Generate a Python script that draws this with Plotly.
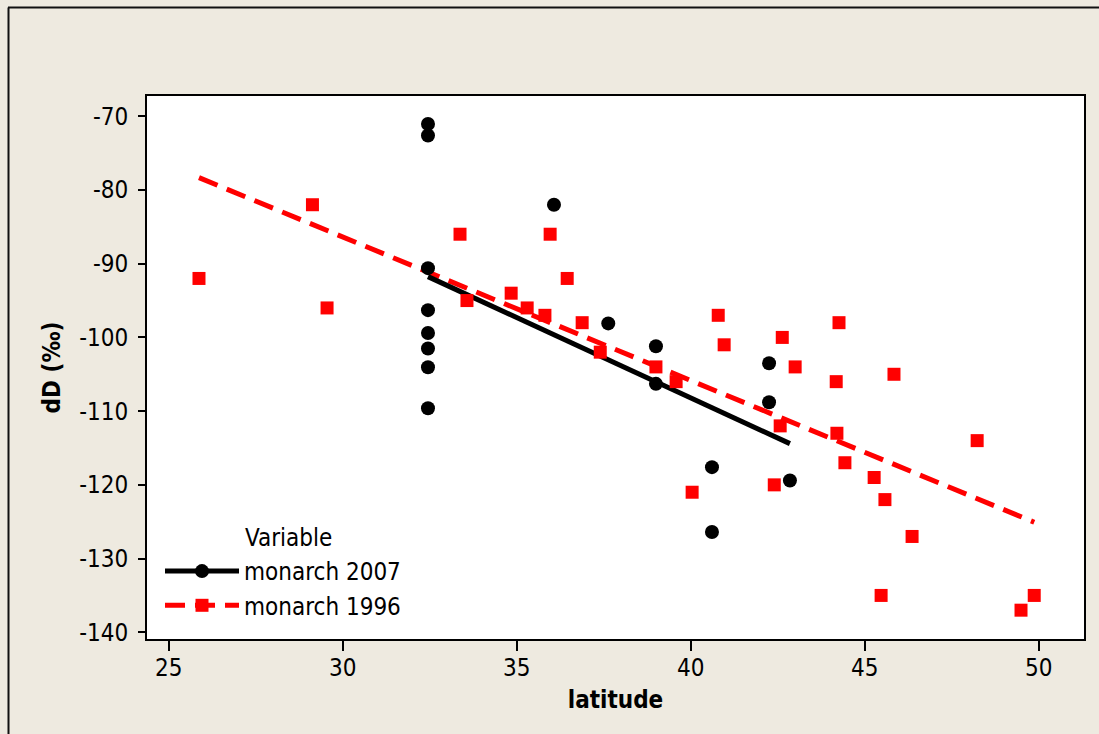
import numpy as np
import plotly.graph_objects as go

# ---- data ----
lat_2007 = [32.45, 32.45, 32.45, 32.45, 32.45, 32.45, 32.45, 32.45,
            36.07, 37.63, 39.0, 39.0, 40.61, 40.61, 42.25, 42.25, 42.85]
dD_2007 = [-71.05, -72.6, -90.6, -96.3, -99.4, -101.5, -104.05, -109.6,
           -82.0, -98.1, -101.2, -106.3, -117.6, -126.4, -103.5, -108.8, -119.4]

lat_1996 = [25.87, 29.13, 29.55, 33.37, 33.57, 34.84, 35.30, 35.81, 35.96,
            36.45, 36.88, 37.40, 39.0, 39.58, 40.04, 40.79, 40.96, 42.4,
            42.57, 42.63, 43.0, 44.18, 44.26, 44.2, 44.43, 45.27, 45.47,
            45.58, 45.84, 46.36, 48.23, 49.49, 49.87]
dD_1996 = [-92.0, -82.0, -96.0, -86.0, -95.0, -94.0, -96.0, -97.0, -86.0,
           -92.0, -98.0, -102.0, -104.0, -106.0, -121.0, -97.0, -101.0, -120.0,
           -112.0, -100.0, -104.0, -106.0, -98.0, -113.0, -117.0, -119.0, -135.0,
           -122.0, -105.0, -127.0, -114.0, -137.0, -135.0]

x_ticks = [25, 30, 35, 40, 45, 50]
x_tick_labels = ["25", "30", "35", "40", "45", "50"]
y_ticks = [-70, -80, -90, -100, -110, -120, -130, -140]
y_tick_labels = ["-70", "-80", "-90", "-100", "-110", "-120", "-130", "-140"]

name_2007 = "monarch 2007"
name_1996 = "monarch 1996"


def fit_line(xs, ys):
    xs = np.asarray(xs, float)
    ys = np.asarray(ys, float)
    m, b = np.polyfit(xs, ys, 1)
    fx = np.array([xs.min(), xs.max()])
    return fx, m * fx + b


fx07, fy07 = fit_line(lat_2007, dD_2007)
fx96, fy96 = fit_line(lat_1996, dD_1996)

FONT = "Tahoma, 'DejaVu Sans Condensed', 'DejaVu Sans', sans-serif"
FS = 24
BEIGE = "#EEEAE0"
RED = "#FF0000"

black_marker = dict(symbol="circle", size=14, color="black")
red_marker = dict(symbol="square", size=13, color=RED)
black_line = dict(color="black", width=5)
red_line = dict(color=RED, width=5, dash="20px,10px")

fig = go.Figure()

# fitted lines
fig.add_trace(go.Scatter(x=fx96, y=fy96, mode="lines", line=red_line,
                         showlegend=False, hoverinfo="skip"))
fig.add_trace(go.Scatter(x=fx07, y=fy07, mode="lines", line=black_line,
                         showlegend=False, hoverinfo="skip"))
# points
fig.add_trace(go.Scatter(x=lat_1996, y=dD_1996, mode="markers", marker=red_marker,
                         name=name_1996, showlegend=False))
fig.add_trace(go.Scatter(x=lat_2007, y=dD_2007, mode="markers", marker=black_marker,
                         name=name_2007, showlegend=False))
# legend entries
fig.add_trace(go.Scatter(x=[None], y=[None], mode="lines+markers", name=name_2007,
                         line=black_line, marker=black_marker))
fig.add_trace(go.Scatter(x=[None], y=[None], mode="lines+markers", name=name_1996,
                         line=red_line, marker=red_marker))

L, R, T, B = 147, 15, 96, 95
W, H = 1099, 734
pw = W - L - R
ph = H - T - B


def px2x(px):
    return (px - L) / pw


def py2y(py):
    return (H - B - py) / ph


fig.update_layout(
    width=W, height=H,
    margin=dict(l=L, r=R, t=T, b=B, pad=0),
    paper_bgcolor=BEIGE,
    plot_bgcolor="white",
    font=dict(family=FONT, size=FS, color="black"),
    showlegend=True,
    legend=dict(
        x=px2x(160), y=py2y(549), xanchor="left", yanchor="top",
        bgcolor="rgba(0,0,0,0)", borderwidth=0,
        font=dict(family=FONT, size=FS, color="black"),
        itemwidth=74, tracegroupgap=0,
    ),
    xaxis=dict(
        range=[24.376, 51.30], tickmode="array", tickvals=x_ticks, ticktext=x_tick_labels,
        showgrid=False, zeroline=False, showline=True, mirror=True,
        linecolor="black", linewidth=2, ticks="outside", ticklen=10, tickwidth=2,
        tickcolor="black", ticklabelstandoff=-4,
        title=dict(text="<b>latitude</b>", standoff=10, font=dict(size=FS)),
    ),
    yaxis=dict(
        range=[-140.91, -67.25], tickmode="array", tickvals=y_ticks, ticktext=y_tick_labels,
        showgrid=False, zeroline=False, showline=True, mirror=True,
        linecolor="black", linewidth=2, ticks="outside", ticklen=7, tickwidth=2,
        tickcolor="black", ticklabelstandoff=5,
        title=dict(text="<b>dD (‰)</b>", standoff=12, font=dict(size=FS)),
    ),
    annotations=[
        dict(text="Variable", xref="paper", yref="paper", x=px2x(243), y=py2y(538),
             xanchor="left", yanchor="middle", showarrow=False,
             font=dict(family=FONT, size=FS, color="black")),
    ],
    shapes=[
        dict(type="line", xref="paper", yref="paper", x0=px2x(8), x1=px2x(1110),
             y0=py2y(7.5), y1=py2y(7.5), line=dict(color="#111111", width=2)),
        dict(type="line", xref="paper", yref="paper", x0=px2x(8.5), x1=px2x(8.5),
             y0=py2y(7.5), y1=py2y(750), line=dict(color="#111111", width=2)),
    ],
)

fig.write_html("out.html")
